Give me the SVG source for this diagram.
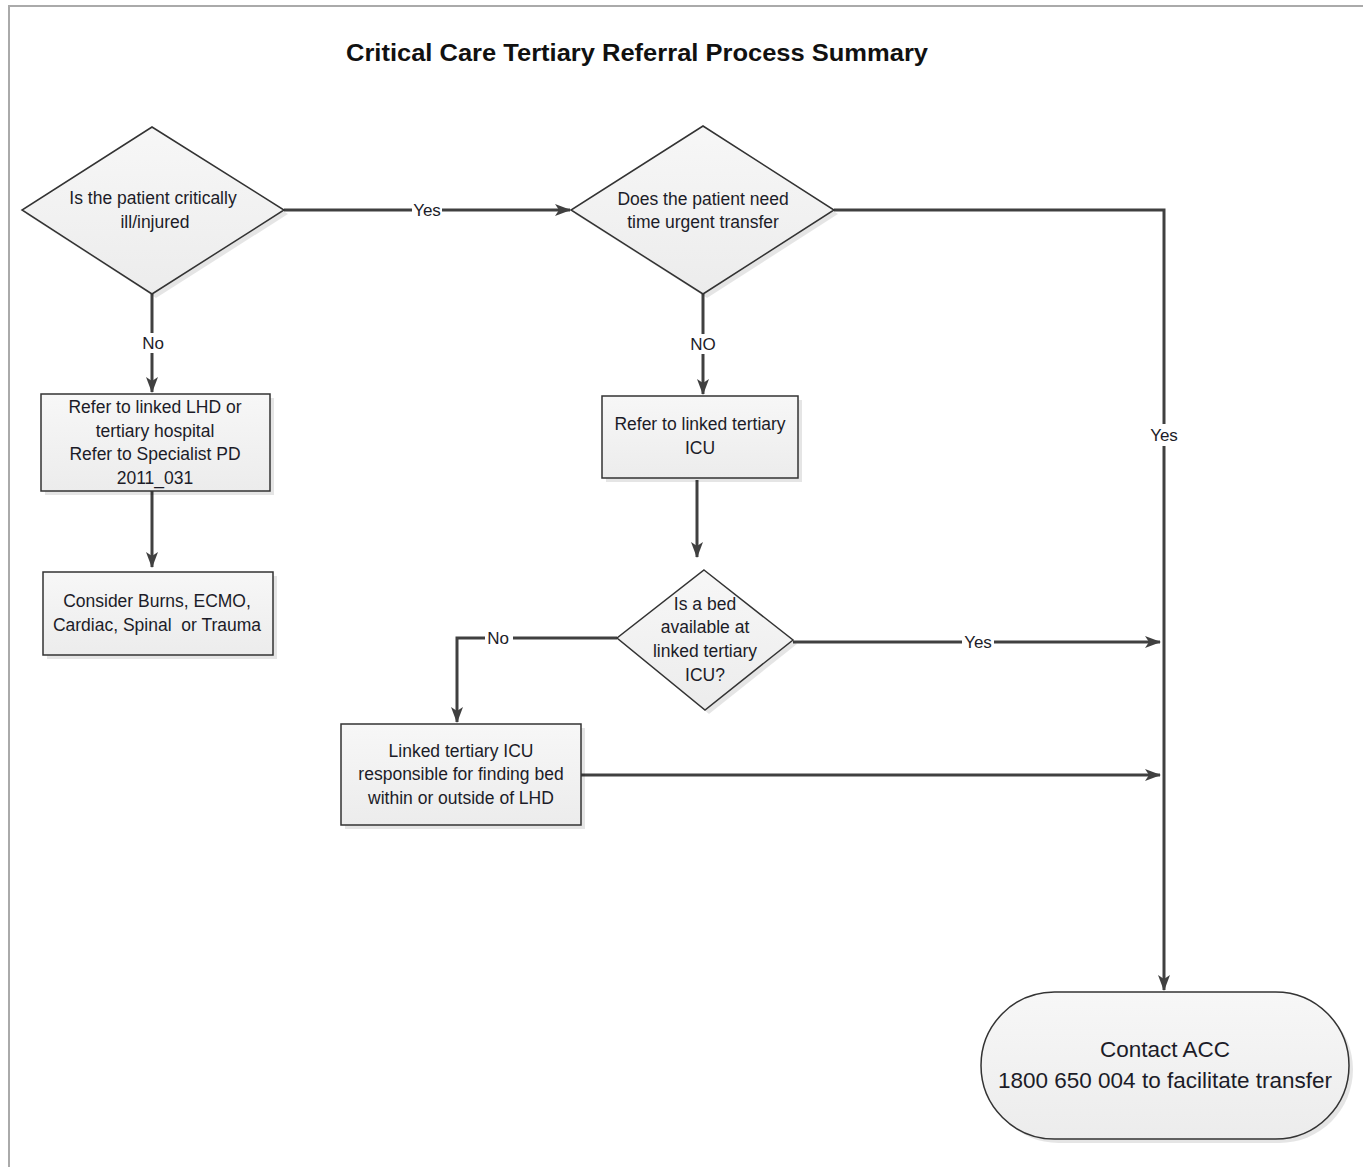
<svg xmlns="http://www.w3.org/2000/svg" width="1363" height="1167" viewBox="0 0 1363 1167">
<defs>
<linearGradient id="g" x1="0" y1="0" x2="0" y2="1">
<stop offset="0" stop-color="#f7f7f7"/><stop offset="1" stop-color="#ececec"/>
</linearGradient>
<marker id="ah" markerWidth="16" markerHeight="12" refX="15" refY="6" orient="auto" markerUnits="userSpaceOnUse">
<path d="M0,0 L16,6 L0,12 L4,6 Z" fill="#404040"/>
</marker>
<style>
.s{fill:url(#g);stroke:#333;stroke-width:1.5}
.sh{fill:#000;opacity:0.10}
.t{font-family:"Liberation Sans",Arial,sans-serif;font-size:17.5px;fill:#1c1c28;text-anchor:middle;white-space:pre}
.c{fill:none;stroke:#404040;stroke-width:3}
.lbl{font-family:"Liberation Sans",Arial,sans-serif;font-size:17px;fill:#1c1c28;text-anchor:middle}
.lb{fill:#fff}
</style>
</defs>
<rect width="1363" height="1167" fill="#fff"/>
<path d="M9,1167 L9,6 L1363,6" fill="none" stroke="#aaa" stroke-width="2"/>
<text x="637" y="61" font-family="'Liberation Sans',Arial,sans-serif" font-size="23" font-weight="bold" text-anchor="middle" fill="#111" textLength="582" lengthAdjust="spacingAndGlyphs">Critical Care Tertiary Referral Process Summary</text>

<g id="connectors">
<path class="c" d="M284,210 L570,210" marker-end="url(#ah)"/>
<path class="c" d="M834,210 L1164,210 L1164,990" marker-end="url(#ah)"/>
<path class="c" d="M152,294 L152,392" marker-end="url(#ah)"/>
<path class="c" d="M152,491 L152,567" marker-end="url(#ah)"/>
<path class="c" d="M703,294 L703,394" marker-end="url(#ah)"/>
<path class="c" d="M697,480 L697,557" marker-end="url(#ah)"/>
<path class="c" d="M793,642 L1160,642" marker-end="url(#ah)"/>
<path class="c" d="M617,638 L457,638 L457,722" marker-end="url(#ah)"/>
<path class="c" d="M581,775 L1160,775" marker-end="url(#ah)"/>
<rect class="lb" x="412" y="200" width="30" height="20"/>
<text class="lbl" x="427" y="216">Yes</text>
<rect class="lb" x="1148" y="424" width="32" height="22"/>
<text class="lbl" x="1164" y="441">Yes</text>
<rect class="lb" x="139" y="333" width="28" height="20"/>
<text class="lbl" x="153" y="349">No</text>
<rect class="lb" x="688" y="334" width="30" height="20"/>
<text class="lbl" x="703" y="350">NO</text>
<rect class="lb" x="962" y="632" width="32" height="20"/>
<text class="lbl" x="978" y="648">Yes</text>
<rect class="lb" x="485" y="628" width="28" height="20"/>
<text class="lbl" x="498" y="644">No</text>
</g>

<g id="d1">
<polygon class="sh" points="156,131 288,214 156,298 26,214"/>
<polygon class="s" points="152,127 284,210 152,294 22,210"/>
<text class="t" x="153" y="204">Is the patient critically</text>
<text class="t" x="155" y="228">ill/injured</text>
</g>

<g id="d2">
<polygon class="sh" points="707,130 838,214 707,298 575,214"/>
<polygon class="s" points="703,126 834,210 703,294 571,210"/>
<text class="t" x="703" y="205">Does the patient need</text>
<text class="t" x="703" y="228">time urgent transfer</text>
</g>

<g id="b1">
<rect class="sh" x="45" y="398" width="229" height="97"/>
<rect class="s" x="41" y="394" width="229" height="97"/>
<text class="t" x="155" y="413">Refer to linked LHD or</text>
<text class="t" x="155" y="437">tertiary hospital</text>
<text class="t" x="155" y="460">Refer to Specialist PD</text>
<text class="t" x="155" y="484">2011_031</text>
</g>

<g id="b2">
<rect class="sh" x="47" y="576" width="230" height="83"/>
<rect class="s" x="43" y="572" width="230" height="83"/>
<text class="t" x="157" y="607">Consider Burns, ECMO,</text>
<text class="t" x="157" y="631">Cardiac, Spinal  or Trauma</text>
</g>

<g id="b3">
<rect class="sh" x="606" y="400" width="196" height="82"/>
<rect class="s" x="602" y="396" width="196" height="82"/>
<text class="t" x="700" y="430">Refer to linked tertiary</text>
<text class="t" x="700" y="454">ICU</text>
</g>

<g id="d3">
<polygon class="sh" points="708,574 797,644 709,714 621,642"/>
<polygon class="s" points="704,570 793,640 705,710 617,638"/>
<text class="t" x="705" y="610">Is a bed</text>
<text class="t" x="705" y="633">available at</text>
<text class="t" x="705" y="657">linked tertiary</text>
<text class="t" x="705" y="681">ICU?</text>
</g>

<g id="b4">
<rect class="sh" x="345" y="728" width="240" height="101"/>
<rect class="s" x="341" y="724" width="240" height="101"/>
<text class="t" x="461" y="757">Linked tertiary ICU</text>
<text class="t" x="461" y="780">responsible for finding bed</text>
<text class="t" x="461" y="804">within or outside of LHD</text>
</g>

<g id="term">
<rect class="sh" x="985" y="996" width="368" height="147" rx="73.5"/>
<rect class="s" x="981" y="992" width="368" height="147" rx="73.5"/>
<text class="t" x="1165" y="1057" style="font-size:22.5px">Contact ACC</text>
<text class="t" x="1165" y="1088" style="font-size:22.5px">1800 650 004 to facilitate transfer</text>
</g>
</svg>
